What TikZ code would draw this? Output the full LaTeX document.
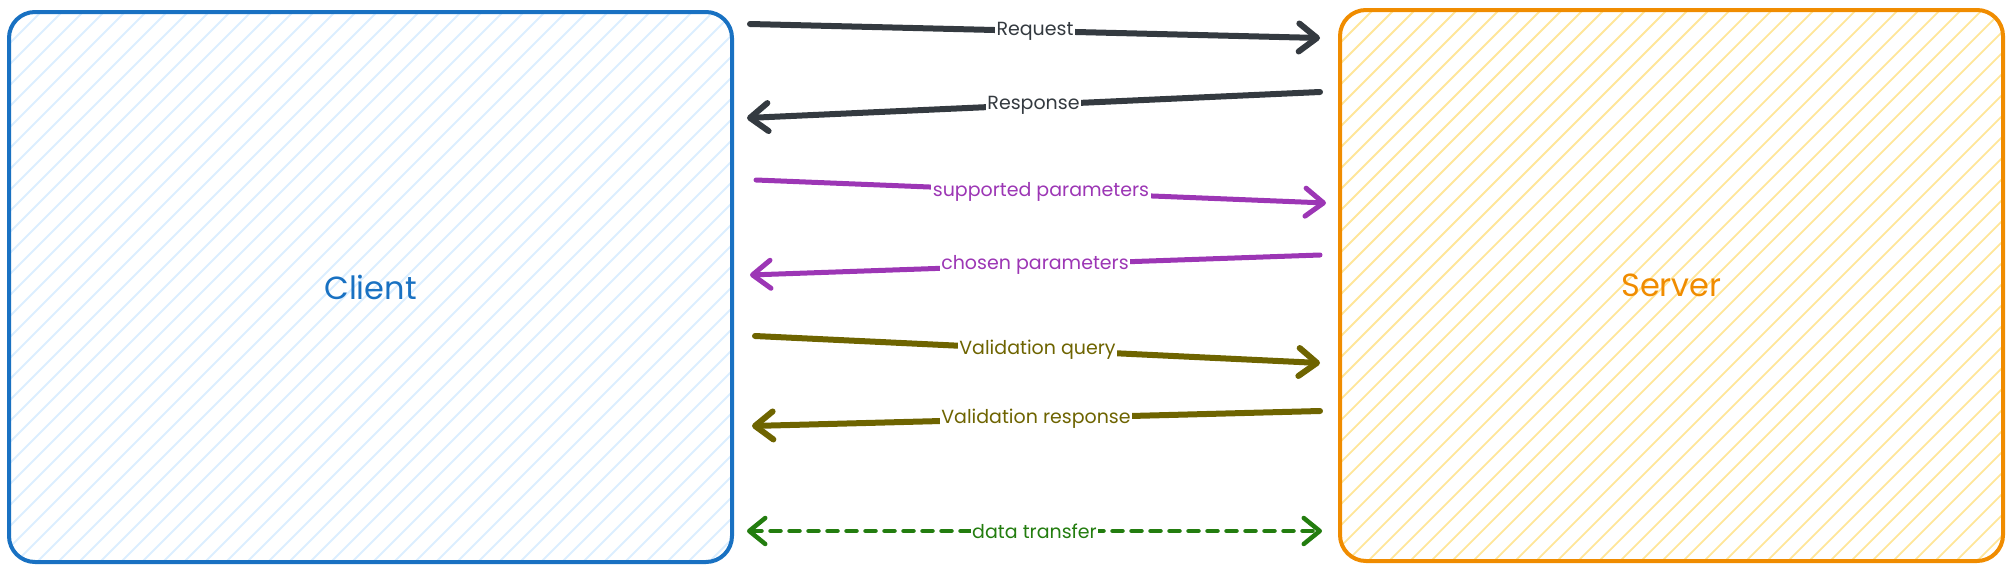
\documentclass[tikz,border=0pt]{standalone}
\usepackage{fontspec}
\setmainfont{Poppins}
\usetikzlibrary{arrows.meta}
\definecolor{cdark}{HTML}{343A40}
\definecolor{cpurple}{HTML}{9C36B5}
\definecolor{colive}{HTML}{6E6400}
\definecolor{cgreen}{HTML}{237D0F}
\definecolor{cblue}{HTML}{1971C2}
\definecolor{corange}{HTML}{F08C00}
\definecolor{hblue}{HTML}{DCEEFF}
\definecolor{horange}{HTML}{FFE699}
\tikzset{
  boxstyle/.style={draw=#1, line width=4pt, rounded corners=26pt, text=#1,
    font=\fontsize{32}{36}\selectfont, inner sep=0pt},
  hatch/.style={path picture={
    \foreach \k in {-560,-539,...,740}
      \draw[#1, line width=1.8pt] ([xshift=\k pt]path picture bounding box.south west) -- ++(620pt,620pt);}},
  msg/.style={line width=#1, line cap=round, line join=round,
    -{Straight Barb[length=18pt,width=28pt,round]}},
  lbl/.style={midway, fill=white, inner sep=1.5pt, font=\fontsize{19}{22}\selectfont}
}
\begin{document}
\begin{tikzpicture}[x=1pt,y=-1pt]
\useasboundingbox (0,0) rectangle (2013,573);
\node[boxstyle=cblue, hatch=hblue, minimum width=723pt, minimum height=550pt] (client) at (370.5,287) {Client};
\node[boxstyle=corange, hatch=horange, minimum width=663pt, minimum height=551pt] (server) at (1671.5,285.5) {Server};
% connector end points
\coordinate (rqA) at (750,24);   \coordinate (rqB) at (1320,38);
\coordinate (rsA) at (1320,92);  \coordinate (rsB) at (747,118);
\coordinate (spA) at (756,180);  \coordinate (spB) at (1326,203);
\coordinate (cpA) at (1320,255); \coordinate (cpB) at (750,275);
\coordinate (vqA) at (755,336);  \coordinate (vqB) at (1320,363);
\coordinate (vrA) at (1320,411); \coordinate (vrB) at (752,426);
\coordinate (dtA) at (747,531);  \coordinate (dtB) at (1322,531);
\draw[msg=6pt, cdark] (rqA) -- (rqB) node[lbl, text=cdark] {Request};
\draw[msg=6pt, cdark] (rsA) -- (rsB) node[lbl, text=cdark] {Response};
\draw[msg=5pt, cpurple] (spA) -- (spB) node[lbl, text=cpurple] {supported parameters};
\draw[msg=5pt, cpurple] (cpA) -- (cpB) node[lbl, text=cpurple] {chosen parameters};
\draw[msg=6pt, colive] (vqA) -- (vqB) node[lbl, text=colive] {Validation query};
\draw[msg=6pt, colive] (vrA) -- (vrB) node[lbl, text=colive] {Validation response};
\draw[line width=4.5pt, line cap=round, line join=round, cgreen, dash pattern=on 10pt off 9pt,
  {Straight Barb[length=16pt,width=26pt,round]}-{Straight Barb[length=16pt,width=26pt,round]}]
  (dtA) -- (dtB) node[lbl, text=cgreen] {data transfer};
\end{tikzpicture}
\end{document}
